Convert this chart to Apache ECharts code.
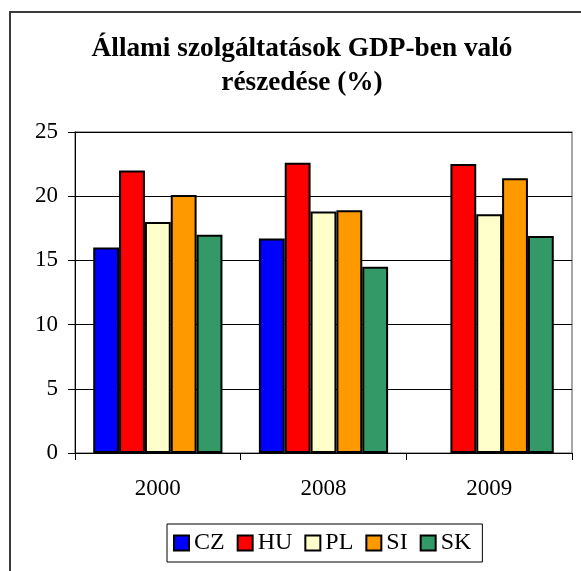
<!DOCTYPE html>
<html>
<head>
<meta charset="utf-8">
<script src="https://cdn.jsdelivr.net/npm/echarts@6/dist/echarts.min.js"></script>
<style>
html,body{margin:0;padding:0;background:#fff;}
#chart{width:581px;height:571px;}
</style>
</head>
<body>
<div id="chart"></div>
<script>
const titleText = 'Állami szolgáltatások GDP-ben való\nrészedése (%)';
const categories = ['2000', '2008', '2009'];
const seriesNames = ['CZ', 'HU', 'PL', 'SI', 'SK'];
const CZ = [16.0, 16.7, null];
const HU = [22.0, 22.6, 22.5];
const PL = [18.0, 18.8, 18.6];
const SI = [20.1, 18.9, 21.4];
const SK = [17.0, 14.5, 16.9];
const yTicks = [0, 5, 10, 15, 20, 25];
const colors = ['#0000FF', '#FF0000', '#FFFFCC', '#FF9900', '#339966'];

const seriesData = [CZ, HU, PL, SI, SK];
const FONT = '"Liberation Serif", "Times New Roman", serif';

const chart = echarts.init(document.getElementById('chart'), null, {renderer: 'canvas'});
chart.setOption({
  animation: false,
  backgroundColor: '#fff',
  title: {
    text: titleText,
    left: 302,
    textAlign: 'center',
    top: 32,
    padding: 0,
    textStyle: {fontFamily: FONT, fontSize: 27.3, fontWeight: 'bold', color: '#000', lineHeight: 34}
  },
  graphic: [{
    type: 'rect',
    shape: {x: 10, y: 12, width: 640, height: 640},
    style: {fill: 'none', stroke: '#3a3a3a', lineWidth: 2},
    silent: true
  }],
  legend: {
    data: seriesNames,
    left: 167,
    top: 524,
    orient: 'horizontal',
    itemWidth: 15,
    itemHeight: 15,
    itemGap: 12,
    padding: [7, 11, 7, 6],
    borderColor: '#000',
    borderWidth: 1,
    icon: 'rect',
    textStyle: {fontFamily: FONT, fontSize: 24, color: '#000'}
  },
  grid: {
    left: 75, top: 132, right: 9, bottom: 118,
    show: true, borderColor: '#8a8a8a', borderWidth: 1.5, backgroundColor: '#fff'
  },
  xAxis: {
    type: 'category',
    data: categories,
    axisLine: {lineStyle: {color: '#000', width: 1}},
    axisTick: {show: true, length: 7, lineStyle: {color: '#000'}},
    axisLabel: {fontFamily: FONT, fontSize: 23, color: '#000', margin: 24},
    splitLine: {show: false}
  },
  yAxis: {
    type: 'value',
    min: 0, max: 25, interval: 5,
    axisLine: {show: true, lineStyle: {color: '#000', width: 1}},
    axisTick: {show: true, length: 7, lineStyle: {color: '#000'}},
    axisLabel: {fontFamily: FONT, fontSize: 23, color: '#000', margin: 17,
      formatter: v => yTicks.includes(v) ? String(v) : ''},
    splitLine: {show: true, lineStyle: {color: '#000', width: 1}}
  },
  series: seriesNames.map((name, i) => ({
    name: name,
    type: 'bar',
    data: seriesData[i],
    barGap: '0%',
    barCategoryGap: '22%',
    itemStyle: {color: colors[i], borderColor: '#000', borderWidth: 2}
  }))
});
</script>
</body>
</html>
